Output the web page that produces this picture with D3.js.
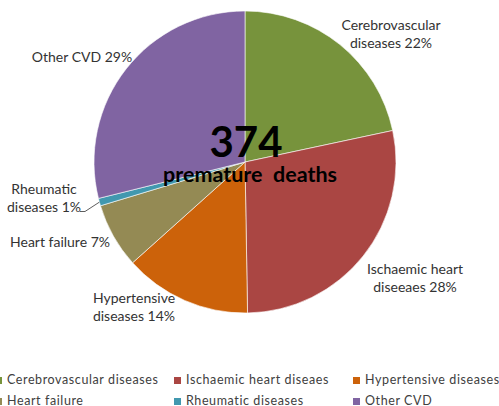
<!DOCTYPE html>
<html lang="en">
<head>
<meta charset="UTF-8">
<title>Premature deaths pie</title>
<script src="https://d3js.org/d3.v7.min.js"></script>
<style>
  body { margin: 0; background: #fff; }
  svg text { font-family: Lato, "Noto Sans", sans-serif; fill: #333; }
</style>
</head>
<body>
<svg id="chart" width="499" height="406"></svg>
<script>
// data (deaths out of 374)
const categories = ["Cerebrovascular diseases", "Ischaemic heart diseaes", "Hypertensive diseases",
                    "Heart failure", "Rheumatic diseases", "Other CVD"];
const values = [81, 105, 51, 26, 3, 108];
const labelLines = [
  ["Cerebrovascular", "diseases 22%"],
  ["Ischaemic heart", "diseeaes 28%"],
  ["Hypertensive", "diseases 14%"],
  ["Heart failure 7%"],
  ["Rheumatic", "diseases 1%"],
  ["Other CVD 29%"]
];
const colors = ["#77933c", "#aa4643", "#cc620a", "#948a54", "#4198af", "#8064a2"];
const total = 374;

// label placement relative to pie centre (layout only)
const labelPos = [[146, -127], [170, 117], [-111, 146], [-185, 81], [-201, 37], [-163, -104]];

const svg = d3.select("#chart");
const cx = 245, cy = 162, r = 151;
const g = svg.append("g").attr("transform", `translate(${cx},${cy})`);

const pie = d3.pie().sort(null).value(d => d.v);
const arcs = pie(categories.map((c, i) => ({ c, v: values[i], i })));
const arc = d3.arc().innerRadius(0).outerRadius(r);

g.selectAll("path.slice")
  .data(arcs)
  .enter().append("path")
  .attr("class", "slice")
  .attr("d", arc)
  .attr("fill", d => colors[d.data.i])
  .attr("stroke", "#fff")
  .attr("stroke-width", 0.6);

// slice labels
arcs.forEach((d, i) => {
  const [lx, ly] = labelPos[i];
  const lines = labelLines[i];
  const t = g.append("text")
    .attr("text-anchor", "middle")
    .attr("font-size", 14);
  lines.forEach((s, k) => {
    t.append("tspan")
      .attr("x", lx)
      .attr("y", ly + (k - (lines.length - 1) / 2) * 18 + 4)
      .text(s);
  });
});

// leader line for the small slice
const small = arcs[4];
const mid = (small.startAngle + small.endAngle) / 2;
const ex = Math.sin(mid) * r, ey = -Math.cos(mid) * r;
g.append("path")
  .attr("d", `M${ex},${ey} L${-160},${49.5} L${-165},${49.5}`)
  .attr("fill", "none")
  .attr("stroke", "#333")
  .attr("stroke-width", 0.8);

// centre caption
svg.append("text")
  .attr("x", cx + 1).attr("y", 157)
  .attr("text-anchor", "middle")
  .attr("font-size", 42).attr("font-weight", "bold")
  .style("fill", "#000")
  .text(d3.format("d")(total));
svg.append("text")
  .attr("x", cx + 5).attr("y", 182)
  .attr("text-anchor", "middle")
  .attr("font-size", 21.5).attr("font-weight", "bold")
  .style("fill", "#000")
  .style("white-space", "pre")
  .text("premature  deaths");

// legend
const legX = [-5, 174, 353];
const leg = svg.append("g");
categories.forEach((c, i) => {
  const x = legX[i % 3], y = 380 + Math.floor(i / 3) * 21;
  leg.append("rect")
    .attr("x", x).attr("y", y - 3)
    .attr("width", 7).attr("height", 7)
    .attr("fill", colors[i]);
  leg.append("text")
    .attr("x", x + 12).attr("y", y + 4)
    .attr("font-size", 12.5)
    .style("letter-spacing", "0.6px")
    .style("fill", "#404040")
    .text(c);
});
</script>
</body>
</html>
